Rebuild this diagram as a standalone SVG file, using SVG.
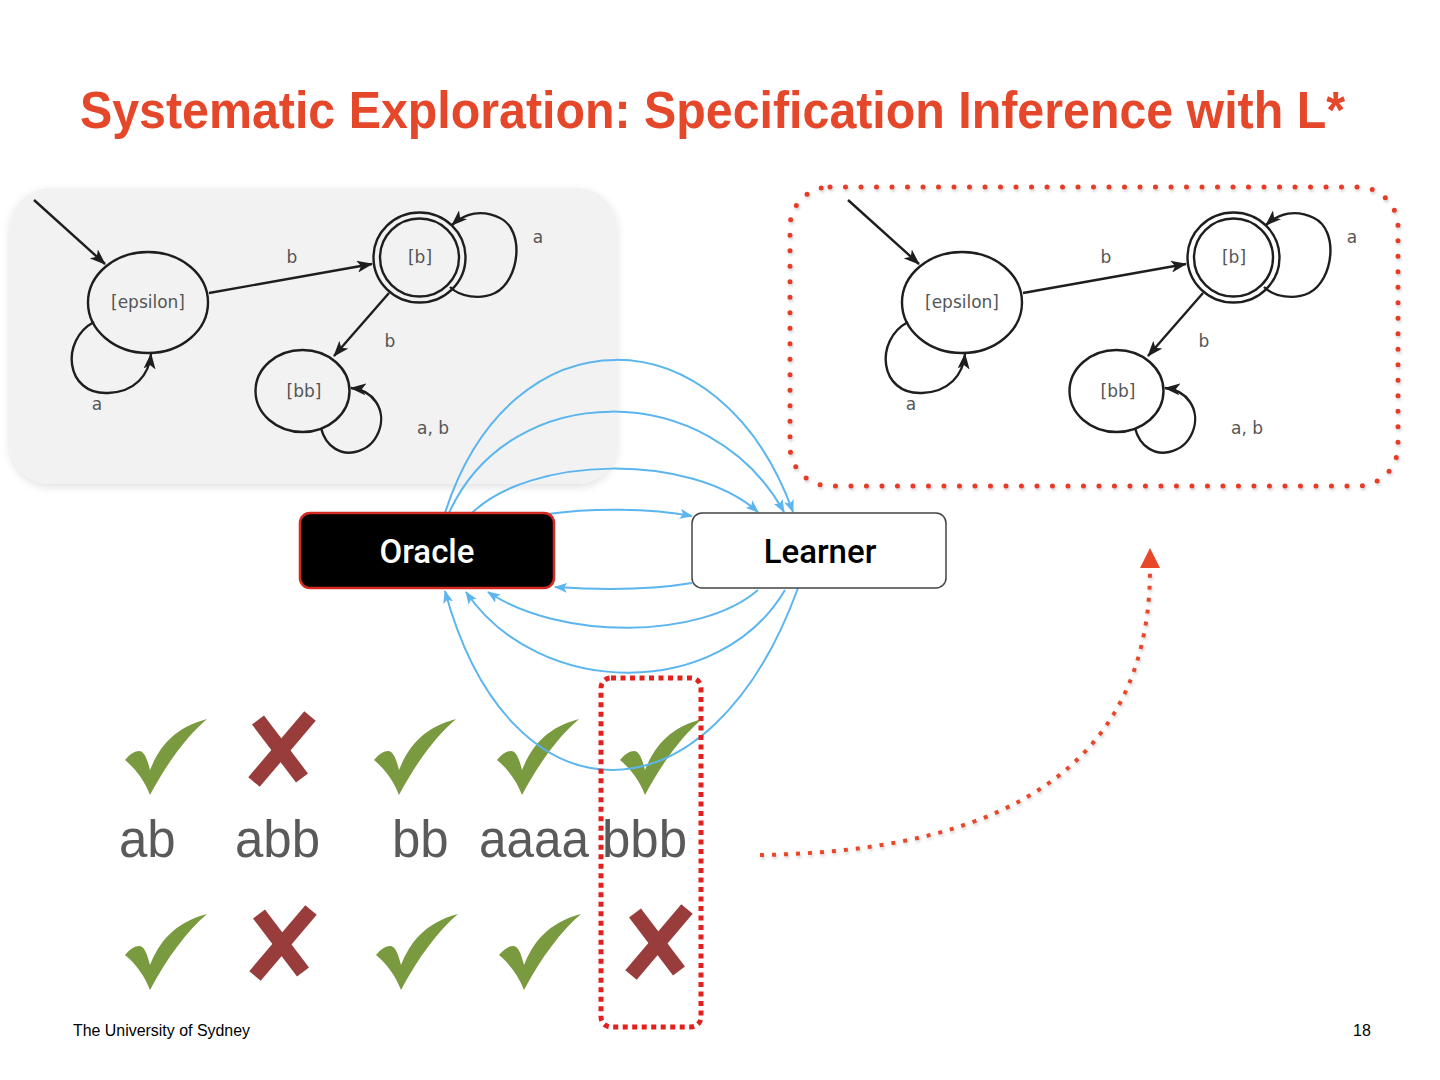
<svg xmlns="http://www.w3.org/2000/svg" xmlns:xlink="http://www.w3.org/1999/xlink" width="1440" height="1080" viewBox="0 0 1440 1080">
<style>
.st{fill:none;stroke:#1e1e1e;stroke-width:2.4}
.lbl{font-family:"DejaVu Sans","Liberation Sans",sans-serif;font-size:17px;fill:#555}
.blue{fill:none;stroke:#5bb5ee;stroke-width:2}
.word{font-family:"Liberation Sans",Arial,sans-serif;font-size:51px;fill:#5a5a5a}
.chk{fill:#7a9a3f}
.crs{stroke:#983c3c;stroke-width:15;fill:none}
.box{font-family:Roboto,"Liberation Sans",sans-serif;font-weight:500;font-size:33px}
</style>
<defs>
<filter id="sh" x="-10%" y="-10%" width="120%" height="130%"><feDropShadow dx="0" dy="3" stdDeviation="4" flood-color="#000" flood-opacity="0.12"/></filter>
<filter id="sh2" x="-10%" y="-10%" width="120%" height="130%"><feDropShadow dx="1" dy="2" stdDeviation="1.5" flood-color="#000" flood-opacity="0.2"/></filter>
<marker id="ak" viewBox="0 0 16 12" refX="15" refY="6" markerWidth="16" markerHeight="12" markerUnits="userSpaceOnUse" orient="auto"><path d="M0,0 L16,6 L0,12 L4,6 z" fill="#1e1e1e"/></marker>
<marker id="ab" viewBox="0 0 13 10" refX="12" refY="5" markerWidth="13" markerHeight="10" markerUnits="userSpaceOnUse" orient="auto"><path d="M0,0 L13,5 L0,10 L3,5 z" fill="#5bb5ee"/></marker>
<path id="check" d="M 0 42 C 5 36, 10 33, 14 33 C 19 33, 22 40, 25 52 C 34 30, 48 10, 82 1 C 62 18, 42 45, 25 77 C 20 64, 12 52, 0 42 Z"/>
<g id="cross"><path d="M 9 8 L 53 66"/><path d="M 61 4 L 5 70"/></g>
</defs>
<rect width="1440" height="1080" fill="#fff"/>

<text x="80" y="128" font-family="'Liberation Sans',Arial,sans-serif" font-weight="bold" font-size="52" fill="#e5472b" textLength="1265" lengthAdjust="spacingAndGlyphs">Systematic Exploration: Specification Inference with L*</text>

<g id="panel-left">
<rect x="10" y="188" width="607" height="296" rx="40" fill="#f2f2f2" filter="url(#sh)"/>
</g>
<g id="fsa-left">
<g id="l-eps"><ellipse cx="148" cy="302.5" rx="60" ry="50.5" class="st"/><text x="148" y="308" class="lbl" text-anchor="middle">[epsilon]</text></g>
<g id="l-b"><ellipse cx="419.5" cy="257.5" rx="46" ry="45" class="st"/><ellipse cx="419.5" cy="257.5" rx="39.5" ry="39" class="st" stroke-width="2"/><text x="420" y="263" class="lbl" text-anchor="middle">[b]</text></g>
<g id="l-bb"><ellipse cx="302.5" cy="391" rx="47" ry="41" class="st"/><text x="304" y="397" class="lbl" text-anchor="middle">[bb]</text></g>
<g id="l-edges">
<path d="M 34 200 L 105 264" class="st" marker-end="url(#ak)"/>
<path d="M 209 293 L 372 264" class="st" marker-end="url(#ak)"/>
<path d="M 389 293 L 334 356" class="st" marker-end="url(#ak)"/>
<path d="M 94 322 C 60 340, 65 395, 108 393 C 135 392, 149 375, 151 354" class="st" marker-end="url(#ak)"/>
<path d="M 450 287 C 460 297, 480 300, 495 293 C 520 280, 525 230, 500 218 C 482 209, 465 213, 452 225" class="st" marker-end="url(#ak)"/>
<path d="M 321 428 C 326 448, 342 455, 355 452 C 378 447, 388 420, 376 402 C 370 393, 362 389, 351 388" class="st" marker-end="url(#ak)"/>
<text x="292" y="263" class="lbl" text-anchor="middle">b</text>
<text x="390" y="347" class="lbl" text-anchor="middle">b</text>
<text x="538" y="243" class="lbl" text-anchor="middle">a</text>
<text x="97" y="410" class="lbl" text-anchor="middle">a</text>
<text x="433" y="434" class="lbl" text-anchor="middle">a, b</text>
</g>
</g>

<g id="panel-right">
<rect x="790" y="187" width="608" height="299" rx="40" fill="none" stroke="#e63a25" stroke-width="5" stroke-linecap="round" stroke-dasharray="0 15.5" filter="url(#sh2)"/>
</g>
<g id="fsa-right" transform="translate(814,0)">
<g id="r-eps"><ellipse cx="148" cy="302.5" rx="60" ry="50.5" class="st"/><text x="148" y="308" class="lbl" text-anchor="middle">[epsilon]</text></g>
<g id="r-b"><ellipse cx="419.5" cy="257.5" rx="46" ry="45" class="st"/><ellipse cx="419.5" cy="257.5" rx="39.5" ry="39" class="st" stroke-width="2"/><text x="420" y="263" class="lbl" text-anchor="middle">[b]</text></g>
<g id="r-bb"><ellipse cx="302.5" cy="391" rx="47" ry="41" class="st"/><text x="304" y="397" class="lbl" text-anchor="middle">[bb]</text></g>
<g id="r-edges">
<path d="M 34 200 L 105 264" class="st" marker-end="url(#ak)"/>
<path d="M 209 293 L 372 264" class="st" marker-end="url(#ak)"/>
<path d="M 389 293 L 334 356" class="st" marker-end="url(#ak)"/>
<path d="M 94 322 C 60 340, 65 395, 108 393 C 135 392, 149 375, 151 354" class="st" marker-end="url(#ak)"/>
<path d="M 450 287 C 460 297, 480 300, 495 293 C 520 280, 525 230, 500 218 C 482 209, 465 213, 452 225" class="st" marker-end="url(#ak)"/>
<path d="M 321 428 C 326 448, 342 455, 355 452 C 378 447, 388 420, 376 402 C 370 393, 362 389, 351 388" class="st" marker-end="url(#ak)"/>
<text x="292" y="263" class="lbl" text-anchor="middle">b</text>
<text x="390" y="347" class="lbl" text-anchor="middle">b</text>
<text x="538" y="243" class="lbl" text-anchor="middle">a</text>
<text x="97" y="410" class="lbl" text-anchor="middle">a</text>
<text x="433" y="434" class="lbl" text-anchor="middle">a, b</text>
</g>
</g>

<g id="marks">
<use xlink:href="#check" class="chk" x="125" y="718"/>
<use xlink:href="#check" class="chk" x="374" y="718"/>
<use xlink:href="#check" class="chk" x="497" y="718"/>
<use xlink:href="#check" class="chk" x="620" y="718"/>
<use xlink:href="#cross" class="crs" x="249" y="712"/>
<use xlink:href="#check" class="chk" x="125" y="913"/>
<use xlink:href="#check" class="chk" x="376" y="913"/>
<use xlink:href="#check" class="chk" x="499" y="913"/>
<use xlink:href="#cross" class="crs" x="250" y="906"/>
<use xlink:href="#cross" class="crs" x="626" y="905"/>
</g>

<g id="words">
<text x="119" y="857" class="word">ab</text>
<text x="235" y="857" class="word">abb</text>
<text x="392" y="857" class="word">bb</text>
<text x="479" y="857" class="word" textLength="110" lengthAdjust="spacingAndGlyphs">aaaa</text>
<text x="602" y="857" class="word">bbb</text>
</g>

<g id="connectors">
<path d="M 445 513 C 510 309, 720 309, 793 512" class="blue" marker-end="url(#ab)"/>
<path d="M 449 513 C 510 378, 710 378, 784 512" class="blue" marker-end="url(#ab)"/>
<path d="M 472 513 C 530 456, 690 452, 758 512" class="blue" marker-end="url(#ab)"/>
<path d="M 548 514 C 590 508, 650 508, 692 516" class="blue" marker-end="url(#ab)"/>
<path d="M 692 583 C 650 590, 600 590, 555 587" class="blue" marker-end="url(#ab)"/>
<path d="M 758 590 C 700 640, 560 640, 488 592" class="blue" marker-end="url(#ab)"/>
<path d="M 785 590 C 720 700, 540 700, 466 592" class="blue" marker-end="url(#ab)"/>
<path d="M 798 588 C 710 830, 510 830, 445 591" class="blue" marker-end="url(#ab)"/>
<path d="M 760 855 C 950 852, 1148 800, 1150 572" fill="none" stroke="#e8472a" stroke-width="4" stroke-dasharray="4 8" filter="url(#sh2)"/>
<path d="M 1150 548 L 1160 568 L 1140 568 Z" fill="#e8472a"/>
</g>

<g id="oracle">
<rect x="300" y="513" width="254" height="75" rx="10" fill="#000" stroke="#d42a20" stroke-width="2.5"/>
<text x="427" y="563" class="box" fill="#fff" text-anchor="middle">Oracle</text>
</g>
<g id="learner">
<rect x="692" y="513" width="254" height="75" rx="10" fill="#fff" stroke="#444" stroke-width="1.5"/>
<text x="820" y="563" class="box" fill="#000" text-anchor="middle">Learner</text>
</g>

<g id="highlight">
<rect x="601" y="678" width="100" height="349" rx="10" fill="none" stroke="#e4201c" stroke-width="5" stroke-dasharray="5 4.5"/>
</g>

<text x="73" y="1036" font-family="'Liberation Sans',Arial,sans-serif" font-size="16" fill="#000" textLength="177" lengthAdjust="spacingAndGlyphs">The University of Sydney</text>
<text x="1353" y="1036" font-family="'Liberation Sans',Arial,sans-serif" font-size="16" fill="#000">18</text>
</svg>
